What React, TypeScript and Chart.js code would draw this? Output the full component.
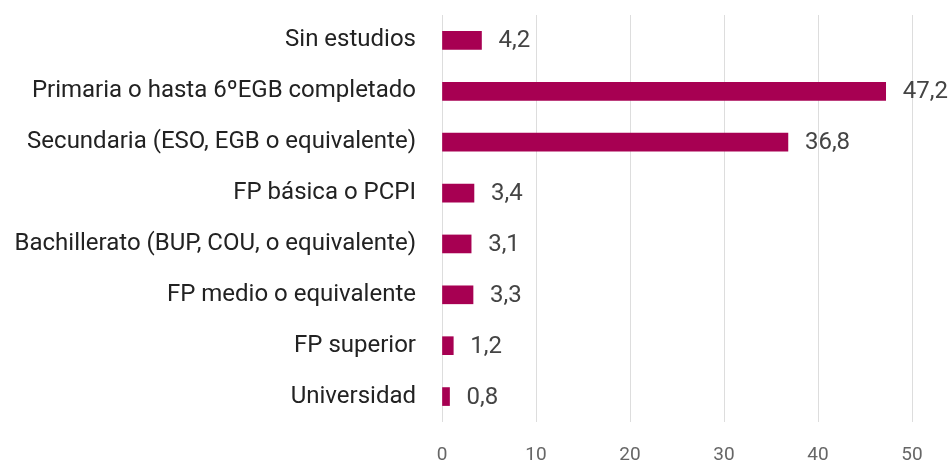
import React, { useEffect, useRef } from "react";
import { Chart, registerables } from "chart.js";

Chart.register(...registerables);

const categories = [
  "Sin estudios",
  "Primaria o hasta 6ºEGB completado",
  "Secundaria (ESO, EGB o equivalente)",
  "FP básica o PCPI",
  "Bachillerato (BUP, COU, o equivalente)",
  "FP medio o equivalente",
  "FP superior",
  "Universidad",
];
const values = [4.2, 47.2, 36.8, 3.4, 3.1, 3.3, 1.2, 0.8];
const xTicks = [0, 10, 20, 30, 40, 50];

const FONT = "Roboto";

const valueLabels = {
  id: "valueLabels",
  afterDatasetsDraw(chart: any) {
    const ctx = chart.ctx;
    const meta = chart.getDatasetMeta(0);
    ctx.save();
    ctx.font = `24px ${FONT}`;
    ctx.fillStyle = "#444444";
    ctx.textAlign = "left";
    ctx.textBaseline = "middle";
    meta.data.forEach((bar: any, i: number) => {
      const txt = values[i].toFixed(1).replace(".", ",");
      ctx.fillText(txt, bar.x + 17, bar.y + 1);
    });
    ctx.restore();
  },
};

export default function App() {
  const ref = useRef<HTMLCanvasElement | null>(null);
  useEffect(() => {
    document.body.style.margin = "0";
    const chart = new Chart(ref.current as HTMLCanvasElement, {
      type: "bar",
      data: {
        labels: categories,
        datasets: [
          {
            data: values,
            backgroundColor: "#a70052",
            barThickness: 18,
          },
        ],
      },
      options: {
        indexAxis: "y",
        animation: false,
        responsive: false,
        maintainAspectRatio: false,
        layout: { padding: { top: 15, right: 36, bottom: 0, left: 0 } },
        plugins: { legend: { display: false }, tooltip: { enabled: false } },
        scales: {
          x: {
            min: 0,
            max: 50,
            afterBuildTicks: (s: any) => {
              s.ticks = xTicks.map((v) => ({ value: v }));
            },
            afterFit: (s: any) => {
              s.height = 42;
            },
            grid: { color: "#dddddd", drawTicks: false, lineWidth: 1 },
            border: { display: false },
            ticks: {
              padding: 22,
              color: "#666666",
              font: { family: FONT, size: 19 },
            },
          },
          y: {
            grid: {
              display: true,
              drawOnChartArea: false,
              drawTicks: true,
              tickLength: 26,
              color: "rgba(0,0,0,0)",
            },
            border: { display: false },
            afterFit: (s: any) => {
              s.width = 442;
            },
            ticks: {
              padding: 0,
              color: "#222222",
              font: { family: FONT, size: 24 },
            },
          },
        },
      },
      plugins: [valueLabels],
    });
    return () => chart.destroy();
  }, []);
  return (
    <div style={{ width: 948, height: 464 }}>
      <canvas ref={ref} width={948} height={464} />
    </div>
  );
}
